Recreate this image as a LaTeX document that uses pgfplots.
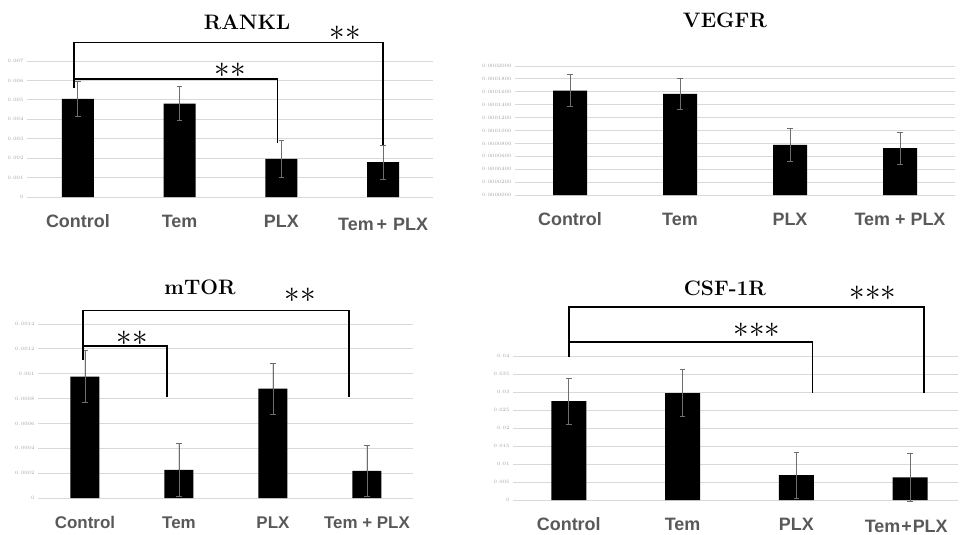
\documentclass[border=0pt]{standalone}
\usepackage{pgfplots}
\pgfplotsset{compat=1.18}
\usepackage{graphicx}
\usepackage{fontspec}
\newfontfamily\lsans{Liberation Sans}
\definecolor{labgray}{HTML}{595959}
\definecolor{errgray}{HTML}{6E6E6E}
\definecolor{gridgray}{HTML}{D9D9D9}
\definecolor{tickgray}{HTML}{A0A0A0}
\tikzset{brk/.style={line width=1.5bp, black}}
\pgfplotsset{
  panel/.style={
    scale only axis, anchor=south west, ybar, ymin=0, clip=false,
    axis line style={draw=none}, ymajorgrids,
    grid style={draw=gridgray, line width=0.9bp},
    major tick length=0, xtick={0,1,2,3},
    xticklabel style={font=\lsans\bfseries\fontsize{18}{18}\selectfont, text=labgray, anchor=base, yshift=-30bp, inner sep=1bp},
    yticklabel style={font=\fontsize{4.5}{5}\selectfont, text=tickgray},
    scaled y ticks=false,
    error bars/y dir=both, error bars/y explicit,
    error bars/error bar style={line width=0.8bp, draw=errgray},
    error bars/error mark options={rotate=90, mark size=2.8bp, line width=0.8bp, draw=errgray},
  },
  bars/.style={fill=black, draw=none},
}
\newcommand{\twostar}{\scalebox{1.5}{$\displaystyle{\ast}{\ast}$}}
\newcommand{\threestar}{\scalebox{1.5}{$\displaystyle{\ast}{\ast}{\ast}$}}
\begin{document}
\begin{tikzpicture}
\useasboundingbox (0,0) rectangle (961bp,-535bp);
% ---------------- RANKL
\begin{axis}[panel, at={(27bp,-197bp)}, width=406bp, height=136bp,
  xmin=-0.5, xmax=3.49, ymax=0.007, ytick distance=0.001, bar width=32bp,
  yticklabel style={/pgf/number format/fixed, /pgf/number format/precision=3},
  xticklabels={Control, Tem, PLX, {\raisebox{-3bp}{Tem\kern3bp+\kern6bp PLX}}}]
\addplot[bars] coordinates {(0,0.00505) +- (0,0.00088) (1,0.00480) +- (0,0.00087) (2,0.00196) +- (0,0.00093) (3,0.00180) +- (0,0.00088)};
\draw[brk] (axis cs:-0.04,0.00562) -- (axis cs:-0.04,0.00794) -- (axis cs:3,0.00794) -- (axis cs:3,0.00268);
\draw[brk] (axis cs:-0.04,0.00608) -- (axis cs:1.96,0.00608) -- (axis cs:1.96,0.00278);
\end{axis}
% ---------------- VEGFR
\begin{axis}[panel, at={(515bp,-195bp)}, width=440bp, height=129bp,
  xmin=-0.5, xmax=3.5, ymax=0.0002, ytick distance=0.00002, bar width=34bp,
  yticklabel style={font=\fontsize{3.5}{4}\selectfont, /pgf/number format/fixed, /pgf/number format/precision=7, /pgf/number format/fixed zerofill},
  xticklabels={Control, Tem, PLX, {Tem + PLX}}]
\addplot[bars] coordinates {(0,0.0001620) +- (0,0.0000243) (1,0.0001567) +- (0,0.0000247) (2,0.0000778) +- (0,0.0000250) (3,0.0000727) +- (0,0.0000247)};
\end{axis}
% ---------------- mTOR
\begin{axis}[panel, at={(38bp,-498bp)}, width=375bp, height=174bp,
  xmin=-0.5, xmax=3.49, ymax=0.0014, ytick distance=0.0002, bar width=29bp,
  yticklabel style={font=\fontsize{5.5}{6}\selectfont, /pgf/number format/fixed, /pgf/number format/precision=4},
  xticklabel style={font=\lsans\bfseries\fontsize{17}{17}\selectfont},
  xticklabels={Control, Tem, PLX, {Tem + PLX}}]
\addplot[bars] coordinates {(0,0.000977) +- (0,0.000210) (1,0.000226) +- (0,0.000210) (2,0.000880) +- (0,0.000207) (3,0.000218) +- (0,0.000205)};
\draw[brk] (axis cs:-0.02,0.00111) -- (axis cs:-0.02,0.00151) -- (axis cs:2.81,0.00151) -- (axis cs:2.81,0.00081);
\draw[brk] (axis cs:-0.02,0.001223) -- (axis cs:0.87,0.001223) -- (axis cs:0.87,0.00081);
\end{axis}
% ---------------- CSF-1R
\begin{axis}[panel, at={(513bp,-500bp)}, width=445bp, height=144bp,
  xmin=-0.49, xmax=3.42, ymax=0.04, ytick distance=0.005, bar width=35bp,
  yticklabel style={font=\fontsize{3.5}{4}\selectfont, /pgf/number format/fixed, /pgf/number format/precision=3},
  xticklabels={Control, Tem, PLX, {\raisebox{-2bp}{\kern-8bp Tem\kern1bp+\kern1bp PLX}}}]
\addplot[bars] coordinates {(0,0.02745) +- (0,0.0064) (1,0.02967) +- (0,0.0065) (2,0.00693) +- (0,0.0064) (3,0.00628) +- (0,0.0066)};
\draw[brk] (axis cs:0,0.0396) -- (axis cs:0,0.0536) -- (axis cs:3.12,0.0536) -- (axis cs:3.12,0.0296);
\draw[brk] (axis cs:0,0.0439) -- (axis cs:2.14,0.0439) -- (axis cs:2.14,0.0296);
\end{axis}
% ---------------- titles
\tikzset{ttl/.style={font=\bfseries\fontsize{21}{21}\selectfont, anchor=center}}
\node[ttl] at (247bp,-22bp) {RANKL};
\node[ttl] at (725bp,-20bp) {VEGFR};
\node[ttl] at (200bp,-287bp) {mTOR};
\node[ttl] at (725bp,-288bp) {CSF-1R};
% ---------------- significance stars
\tikzset{star/.style={font=\fontsize{20}{20}\selectfont, anchor=center, inner sep=0pt}}
\node[star] at (345bp,-33bp) {\twostar};
\node[star] at (230bp,-70bp) {\twostar};
\node[star] at (300bp,-295bp) {\twostar};
\node[star] at (132bp,-338bp) {\twostar};
\node[star] at (873bp,-293bp) {\threestar};
\node[star] at (757bp,-330bp) {\threestar};
\end{tikzpicture}
\end{document}
